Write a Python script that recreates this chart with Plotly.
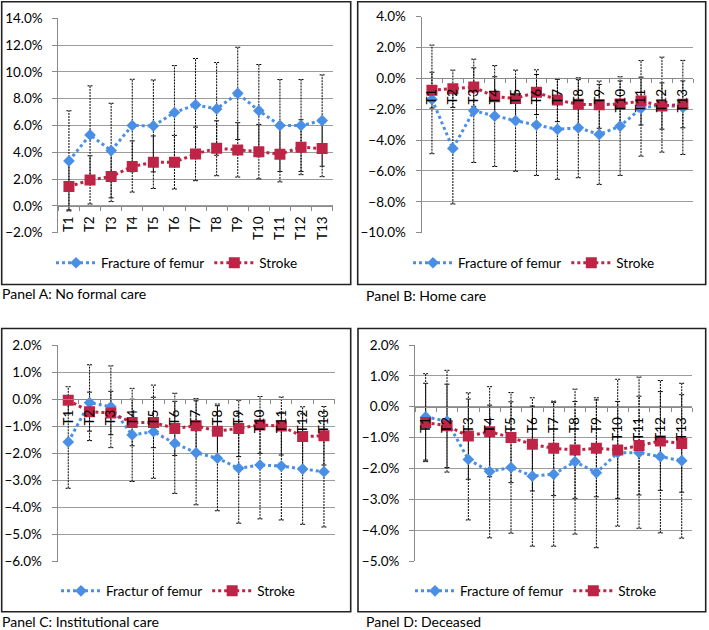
import plotly.graph_objects as go

# ---------------- data (percent) ----------------
categories = ["T1", "T2", "T3", "T4", "T5", "T6", "T7", "T8", "T9", "T10", "T11", "T12", "T13"]

A_femur = [3.36, 5.30, 4.13, 6.00, 5.97, 6.97, 7.54, 7.24, 8.40, 7.11, 6.00, 6.00, 6.37]
A_femur_hw = [3.74, 3.66, 3.53, 3.45, 3.43, 3.50, 3.46, 3.46, 3.44, 3.44, 3.43, 3.43, 3.41]
A_stroke = [1.44, 1.94, 2.19, 2.94, 3.26, 3.26, 3.88, 4.30, 4.18, 4.05, 3.86, 4.38, 4.28]
A_stroke_hw = [1.74, 1.80, 1.87, 1.91, 1.96, 2.00, 2.00, 2.05, 2.03, 2.03, 2.07, 2.05, 2.10]

B_femur = [-1.36, -4.54, -2.10, -2.44, -2.74, -3.02, -3.30, -3.20, -3.63, -3.09, -1.94, -1.70, -1.88]
B_femur_hw = [3.52, 3.60, 3.35, 3.27, 3.28, 3.27, 3.24, 3.24, 3.24, 3.20, 3.10, 3.08, 3.05]
B_stroke = [-0.76, -0.67, -0.56, -1.19, -1.30, -0.89, -1.40, -1.68, -1.70, -1.66, -1.47, -1.79, -1.68]
B_stroke_hw = [1.16, 1.21, 1.25, 1.30, 1.30, 1.45, 1.40, 1.60, 1.53, 1.50, 1.55, 1.50, 1.52]

C_femur = [-1.58, -0.13, -0.28, -1.32, -1.20, -1.63, -1.98, -2.18, -2.55, -2.43, -2.47, -2.58, -2.68]
C_femur_hw = [1.71, 1.40, 1.51, 1.72, 1.72, 1.85, 1.92, 1.94, 2.03, 1.99, 1.99, 2.04, 2.04]
C_stroke = [-0.04, -0.46, -0.51, -0.86, -0.86, -1.08, -0.98, -1.18, -1.08, -0.95, -0.99, -1.38, -1.35]
C_stroke_hw = [0.50, 0.72, 0.80, 0.86, 0.93, 1.00, 1.00, 1.00, 1.04, 1.05, 1.07, 1.10, 1.08]

D_femur = [-0.33, -0.47, -1.71, -2.10, -1.97, -2.25, -2.19, -1.78, -2.14, -1.49, -1.49, -1.62, -1.75]
D_femur_hw = [1.40, 1.65, 1.96, 2.15, 2.13, 2.27, 2.33, 2.35, 2.43, 2.38, 2.45, 2.47, 2.51]
D_stroke = [-0.51, -0.62, -0.95, -0.81, -1.00, -1.22, -1.35, -1.40, -1.35, -1.40, -1.26, -1.11, -1.19]
D_stroke_hw = [1.27, 1.35, 1.40, 1.46, 1.46, 1.51, 1.53, 1.57, 1.57, 1.57, 1.60, 1.60, 1.58]

panel_titles = ["Panel A: No formal care", "Panel B: Home care",
                "Panel C: Institutional care", "Panel D: Deceased"]
femur_names = ["Fracture of femur", "Fracture of femur", "Fractur of femur", "Fracture of femur"]
stroke_name = "Stroke"

# ---------------- styling / layout ----------------
W, H = 709, 630
FONT = "Lato, Carlito, Calibri, sans-serif"
BLUE = "#4A8FE6"
RED = "#BE2445"
GRID = "#9c9c9c"
AXIS = "#8a8a8a"
FS = 13.5


def fx(p):
    return p / W


def fy(p):
    return 1 - p / H


panels = [
    dict(xd=(58.4, 332.7), yd=(18.3, 232.7), rng=(-2, 14), dt=2,
         f=A_femur, fh=A_femur_hw, s=A_stroke, sh=A_stroke_hw,
         box=(1.7, 1.7, 350.7, 284.5), leg=(177, 263), title=(0, 293)),
    dict(xd=(421.5, 693.3), yd=(16.7, 232.7), rng=(-10, 4), dt=2,
         f=B_femur, fh=B_femur_hw, s=B_stroke, sh=B_stroke_hw,
         box=(357.7, 1.7, 705.7, 284.5), leg=(534, 263), title=(364, 295)),
    dict(xd=(57.6, 334.6), yd=(345, 561.7), rng=(-6, 2), dt=1,
         f=C_femur, fh=C_femur_hw, s=C_stroke, sh=C_stroke_hw,
         box=(1.7, 328.5, 350.7, 611.7), leg=(178, 591), title=(0, 621)),
    dict(xd=(415, 692.4), yd=(345, 561), rng=(-5, 2), dt=1,
         f=D_femur, fh=D_femur_hw, s=D_stroke, sh=D_stroke_hw,
         box=(358, 328.5, 705.7, 611.7), leg=(536, 591), title=(364, 621)),
]

idx = list(range(len(categories)))
CAP = 0.12


def err_trace(vals, hws, xref, yref):
    xs, ys = [], []
    for i, (v, h) in enumerate(zip(vals, hws)):
        lo, hi = v - h, v + h
        xs += [i, i, None, i - CAP, i + CAP, None, i - CAP, i + CAP, None]
        ys += [lo, hi, None, lo, lo, None, hi, hi, None]
    return go.Scatter(x=xs, y=ys, mode="lines", xaxis=xref, yaxis=yref,
                      line=dict(color="#000000", width=1, dash="2px,1px"),
                      showlegend=False, hoverinfo="skip")


fig = go.Figure()
layout = dict(width=W, height=H, margin=dict(l=0, r=0, t=0, b=0, pad=0, autoexpand=False),
              paper_bgcolor="white", plot_bgcolor="white",
              font=dict(family=FONT, size=FS, color="#000000"),
              shapes=[], annotations=[])

for k, p in enumerate(panels):
    n = "" if k == 0 else str(k + 1)
    xref, yref = "x" + n, "y" + n
    legname = "legend" + n
    fig.add_trace(err_trace(p["f"], p["fh"], xref, yref))
    fig.add_trace(err_trace(p["s"], p["sh"], xref, yref))
    fig.add_trace(go.Scatter(x=idx, y=p["f"], name=femur_names[k], mode="lines+markers",
                             xaxis=xref, yaxis=yref, legend=legname,
                             line=dict(color=BLUE, width=3, dash="dot"),
                             marker=dict(symbol="diamond", size=9, color=BLUE)))
    fig.add_trace(go.Scatter(x=idx, y=p["s"], name=stroke_name, mode="lines+markers",
                             xaxis=xref, yaxis=yref, legend=legname,
                             line=dict(color=RED, width=3, dash="dot"),
                             marker=dict(symbol="square", size=11, color=RED)))

    yd = (fy(p["yd"][1]), fy(p["yd"][0]))
    lo, hi = p["rng"]
    zero_pos = yd[0] + (0 - lo) / (hi - lo) * (yd[1] - yd[0])

    layout["xaxis" + n] = dict(
        domain=[fx(p["xd"][0]), fx(p["xd"][1])], range=[-0.5, len(categories) - 0.5],
        tickmode="array", tickvals=idx, ticktext=categories, tickangle=-90,
        anchor="free", position=zero_pos, showline=True, linecolor=AXIS, linewidth=1,
        showgrid=False, zeroline=False, ticks="outside", ticklen=4, tickcolor="rgba(0,0,0,0)",
        minor=dict(tickmode="array", tickvals=[i - 0.5 for i in range(len(categories) + 1)],
                   ticks="outside", ticklen=4, tickcolor=AXIS, showgrid=False),
        tickfont=dict(size=FS, color="#000000"), fixedrange=True, automargin=False)
    layout["yaxis" + n] = dict(
        domain=list(yd), range=[lo, hi], tick0=0, dtick=p["dt"], tickformat=".1f",
        ticksuffix="%", anchor=xref, showgrid=True, gridcolor=GRID, gridwidth=1,
        showline=True, linecolor=AXIS, linewidth=1, zeroline=False,
        ticks="outside", ticklen=5, tickcolor=AXIS, ticklabelstandoff=7,
        tickfont=dict(size=FS, color="#000000"), fixedrange=True, automargin=False)
    layout[legname] = dict(orientation="h", x=fx(p["leg"][0]), y=fy(p["leg"][1]),
                           xanchor="center", yanchor="middle", bgcolor="rgba(0,0,0,0)",
                           font=dict(size=FS, family=FONT), itemwidth=40)
    b = p["box"]
    layout["shapes"].append(dict(type="rect", xref="paper", yref="paper",
                                 x0=fx(b[0]), x1=fx(b[2]), y0=fy(b[3]), y1=fy(b[1]),
                                 line=dict(color="#222222", width=1.6)))
    layout["annotations"].append(dict(text=panel_titles[k], xref="paper", yref="paper",
                                      x=fx(p["title"][0]), y=fy(p["title"][1]),
                                      xanchor="left", yanchor="middle", showarrow=False,
                                      font=dict(size=14, family=FONT, color="#000000")))

fig.update_layout(**layout)
fig.write_html("out.html", config={"displayModeBar": False},
               post_script="document.body.style.margin='0';document.body.style.padding='0';"
                           "document.body.style.overflow='hidden';")
